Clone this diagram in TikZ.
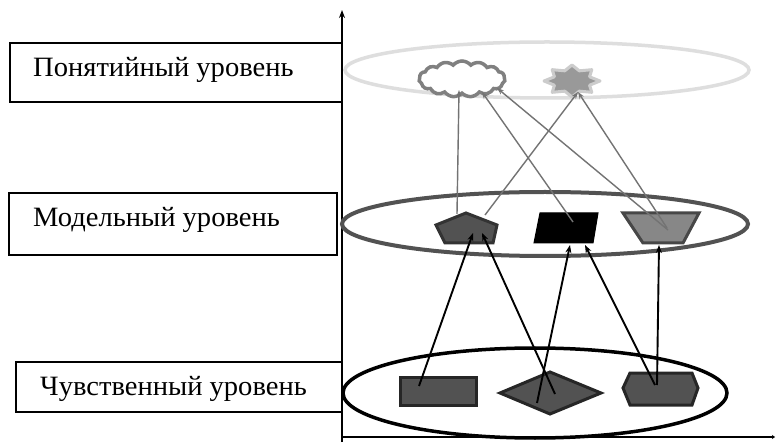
\documentclass[tikz,border=0pt]{standalone}
\usepackage{fontspec}
\newfontfamily\lfont{Liberation Serif}
\usetikzlibrary{arrows.meta,shapes.symbols,shapes.geometric}
\begin{document}
\begin{tikzpicture}[x=1pt,y=-1pt,
  lbox/.style={draw=black,line width=1.5pt},
  ltext/.style={anchor=base west,inner sep=0pt,font=\lfont\fontsize{28}{30}\selectfont},
  lvl/.style={line width=3.5pt},
  shp/.style={line width=3pt,line join=miter},
  uparrow/.style={black,line width=1.9pt,-{Stealth[length=8pt,width=6pt]}},
  toparrow/.style={black!55,line width=1.4pt,-{Stealth[length=7pt,width=5pt]}},
  axis/.style={black,line width=1.6pt}
]
\useasboundingbox (0,0) rectangle (776,443);
\fill[white] (0,0) rectangle (776,443);

% axes
\coordinate (o) at (342,437);
\coordinate (ytop) at (342,10);
\coordinate (xend) at (775,437);
\coordinate (ybot) at (342,442);
\draw[axis,-{Stealth[length=8pt,width=6pt]}] (ybot) -- (ytop);
\draw[axis,-{Stealth[length=3pt,width=4pt]}] (o) -- (xend);

% label boxes
\draw[lbox] (10,43) rectangle (342,102);
\draw[lbox] (9,193) rectangle (337,255);
\draw[lbox] (16,362) rectangle (342,412);
\node[ltext] (t1) at (33,77) {\scalebox{1.02}[1]{Понятийный уровень}};
\node[ltext] (t2) at (33,227) {\scalebox{1.02}[1]{Модельный уровень}};
\node[ltext] (t3) at (40,395) {\scalebox{1.02}[1]{Чувственный уровень}};

% level ellipses
\draw[lvl,draw=black!13] (547,70) ellipse [x radius=202pt, y radius=28pt];
\draw[lvl,draw=black!68,line width=4pt] (545,224) ellipse [x radius=203pt, y radius=32pt];
\draw[lvl,draw=black] (535,393) ellipse [x radius=192pt, y radius=45pt];

% top shapes
\node[cloud,cloud puffs=15,cloud puff arc=100,aspect=2.4,minimum width=86pt,minimum height=36pt,
      draw=black!50,fill=white,line width=3.5pt,inner sep=0pt] (cloud) at (462,79) {};
\draw[draw=black!20,line width=3pt,fill=black!40,line join=round]
  plot[samples=17,domain=0:16,variable=\k]
  ({572+(mod(\k,2)==0 ? 28 : 19)*sin(\k*22.5)},{81-(mod(\k,2)==0 ? 16 : 11)*cos(\k*22.5)}) -- cycle;
\coordinate (star) at (572,81);

% middle shapes
\draw[shp,draw=black!80,fill=black!68] (466,213) -- (497,225) -- (493,243) -- (445,243) -- (436,225) -- cycle;
\coordinate (pent) at (466,229);
\draw[shp,line width=1pt,draw=black,fill=black] (540,213) -- (598,213) -- (593,243) -- (534,243) -- cycle;
\coordinate (para) at (566,228);
\draw[shp,draw=black!72,fill=black!47] (623,213) -- (699,213) -- (683,243) -- (643,243) -- cycle;
\coordinate (trap) at (661,228);

% bottom shapes
\draw[shp,draw=black!85,fill=black!68] (400,377) rectangle (476,405);
\coordinate (rect) at (438,391);
\draw[shp,draw=black!85,fill=black!68] (500,393) -- (550,372) -- (601,393) -- (550,414) -- cycle;
\coordinate (diam) at (550,393);
\draw[shp,draw=black!85,fill=black!68] (623,388) -- (630,373) -- (692,373) -- (698,388) -- (692,405) -- (630,405) -- cycle;
\coordinate (hexa) at (660,389);

% arrow endpoints
\coordinate (a1s) at (419,386); \coordinate (a1e) at (473,233);
\coordinate (a2s) at (555,394); \coordinate (a2e) at (482,233);
\coordinate (a3s) at (537,403); \coordinate (a3e) at (570,245);
\coordinate (a4s) at (655,385); \coordinate (a4e) at (585,245);
\coordinate (a5s) at (657,385); \coordinate (a5e) at (659,245);
\coordinate (b1s) at (457,214); \coordinate (b1e) at (459,90);
\coordinate (b2s) at (485,215); \coordinate (b2e) at (578,92);
\coordinate (b3s) at (573,222); \coordinate (b3e) at (482,92);
\coordinate (b4s) at (668,230); \coordinate (b4e) at (497,88);
\coordinate (b5s) at (667,228); \coordinate (b5e) at (578,92);

\draw[uparrow] (a1s) -- (a1e);
\draw[uparrow] (a2s) -- (a2e);
\draw[uparrow] (a3s) -- (a3e);
\draw[uparrow] (a4s) -- (a4e);
\draw[uparrow] (a5s) -- (a5e);
\draw[toparrow] (b1s) -- (b1e);
\draw[toparrow] (b2s) -- (b2e);
\draw[toparrow] (b3s) -- (b3e);
\draw[toparrow] (b4s) -- (b4e);
\draw[toparrow] (b5s) -- (b5e);
\end{tikzpicture}
\end{document}
